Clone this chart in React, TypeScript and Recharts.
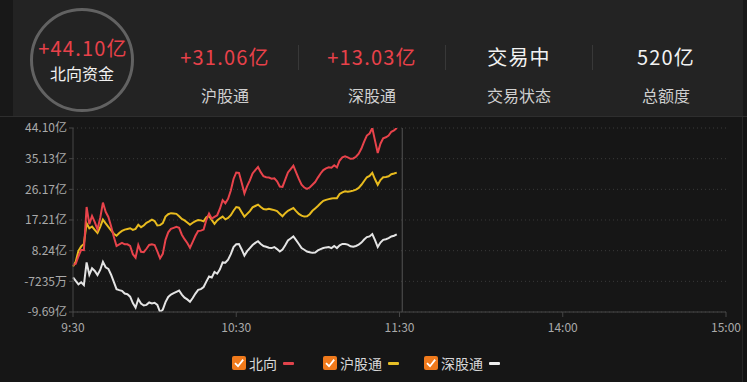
import React from 'react';
import { LineChart, Line, XAxis, YAxis, CartesianGrid, ReferenceLine } from 'recharts';

// minute-by-minute net inflow (亿), 9:30 → 11:29
const northbound = [
  4.1, 4.4, 6.6, 8.5, 8.4, 21.0, 16.0, 18.4, 16.6, 14.5,
  17.8, 22.3, 19.6, 18.1, 15.4, 12.3, 9.6, 10.1, 10.5, 10.1,
  10.1, 9.6, 7.2, 6.2, 9.9, 7.9, 7.8, 8.8, 9.9, 10.1,
  9.9, 8.0, 6.0, 7.3, 11.4, 13.6, 14.6, 14.9, 15.2, 14.9,
  12.9, 11.6, 10.5, 9.1, 10.8, 12.6, 14.0, 14.1, 14.4, 17.2,
  19.1, 17.6, 18.1, 18.6, 20.5, 23.0, 22.1, 23.4, 25.8, 29.2,
  31.1, 31.0, 28.1, 25.0, 27.1, 28.8, 30.8, 31.8, 32.7, 31.2,
  30.0, 29.7, 29.6, 29.3, 29.4, 28.5, 27.0, 26.9, 29.0, 31.1,
  32.1, 33.1, 31.1, 29.2, 27.5, 26.7, 26.3, 26.7, 27.5, 28.3,
  29.6, 30.8, 31.8, 32.3, 32.6, 32.5, 33.2, 32.6, 34.6, 35.5,
  35.8, 35.5, 35.1, 35.2, 35.7, 36.6, 38.1, 40.1, 41.9, 42.5,
  44.08, 40.4, 36.8, 39.5, 41.1, 41.4, 41.9, 43.0, 43.4, 44.1,
];
const shanghai = [
  3.6, 5.0, 8.2, 9.5, 10.2, 16.2, 14.8, 15.3, 14.3, 13.4,
  15.2, 17.3, 16.2, 15.2, 14.2, 13.2, 12.6, 13.4, 14.0, 14.4,
  14.6, 14.8, 14.3, 14.6, 15.8, 15.1, 15.6, 16.4, 16.8, 17.3,
  16.9, 15.6, 15.7, 16.3, 18.2, 18.9, 19.2, 19.1, 19.0, 18.3,
  17.5, 17.1, 16.5, 15.8, 16.4, 16.9, 17.2, 17.1, 16.8, 18.0,
  18.4, 17.2, 16.1, 17.1, 17.7, 18.2, 17.4, 17.8, 18.6, 19.9,
  21.0, 20.8, 19.5, 18.2, 19.0, 19.8, 20.9, 21.3, 21.7, 21.0,
  20.4, 20.3, 20.5, 20.3, 20.1, 19.8, 19.0, 18.3, 19.2, 19.9,
  20.3, 20.7, 19.8, 19.0, 18.5, 18.2, 18.3, 18.9, 19.9, 20.6,
  21.3, 22.1, 22.8, 23.1, 23.3, 23.5, 23.6, 23.6, 24.8, 25.3,
  25.6, 25.5, 25.6, 25.8, 26.1, 26.6, 27.5, 28.6, 29.7, 30.1,
  31.0, 29.1, 27.5, 28.9, 29.7, 29.8, 30.0, 30.6, 30.8, 31.06,
];
const shenzhen = [
  0.45, -0.6, -1.6, -1.0, -1.8, 4.8, 1.2, 3.1, 2.3, 1.1,
  2.6, 5.0, 3.4, 2.9, 1.2, -0.9, -3.0, -3.3, -3.5, -4.3,
  -4.5, -5.2, -7.1, -8.4, -5.9, -7.2, -7.8, -7.6, -6.9, -7.2,
  -7.0, -7.6, -9.69, -9.0, -6.8, -5.3, -4.6, -4.2, -3.8, -3.4,
  -4.6, -5.5, -6.0, -6.7, -5.6, -4.3, -3.2, -3.0, -2.4, -0.8,
  0.7, 0.4, 2.0, 1.5, 2.8, 4.8, 4.7, 5.6, 7.2, 9.3,
  10.1, 10.2, 8.6, 6.8, 8.1, 9.0, 9.9, 10.5, 11.0, 10.2,
  9.6, 9.4, 9.1, 9.0, 9.3, 8.7, 8.0, 8.6, 9.8, 11.2,
  11.8, 12.4, 11.3, 10.2, 9.0, 8.5, 8.0, 7.8, 7.6, 7.7,
  8.3, 8.7, 9.0, 9.2, 9.3, 9.0, 9.6, 9.0, 9.8, 10.2,
  10.2, 10.0, 9.5, 9.4, 9.6, 10.0, 10.6, 11.5, 12.2, 12.4,
  13.1, 11.3, 9.3, 10.6, 11.4, 11.6, 11.9, 12.4, 12.6, 13.03,
];

const timeTicks = [0, 60, 120, 180, 240];
const timeLabels = ['9:30', '10:30', '11:30', '14:00', '15:00'];
const yTicks = [44.1, 35.13, 26.17, 17.21, 8.24, -0.7235, -9.69];
const yLabels = ['44.10亿', '35.13亿', '26.17亿', '17.21亿', '8.24亿', '-7235万', '-9.69亿'];

const stats = [
  { value: '+31.06亿', label: '沪股通', color: '#e8414a' },
  { value: '+13.03亿', label: '深股通', color: '#e8414a' },
  { value: '交易中', label: '交易状态', color: '#f2f2f2' },
  { value: '520亿', label: '总额度', color: '#f2f2f2' },
];

const legendItems = [
  { name: '北向', color: '#e0434b' },
  { name: '沪股通', color: '#e6bf26' },
  { name: '深股通', color: '#eeeeee' },
];

const RED = '#e8434b';
const YELLOW = '#e8bb1e';
const WHITE = '#e4e4e4';
const FONT = '"Noto Sans CJK SC", "Noto Sans", sans-serif';

const data = northbound.map((v, i) => ({
  t: i,
  north: v,
  sh: shanghai[i],
  sz: shenzhen[i],
}));

const yLabel = (v: number) => {
  const i = yTicks.indexOf(v);
  return i >= 0 ? yLabels[i] : '';
};
const xLabel = (v: number) => {
  const i = timeTicks.indexOf(v);
  return i >= 0 ? timeLabels[i] : '';
};

const Centered = ({ cx, cy, size, color, children, spacing = 0 }: any) => (
  <div
    style={{
      position: 'absolute',
      left: cx - 70,
      width: 140,
      top: cy - size / 2,
      height: size,
      lineHeight: `${size}px`,
      fontSize: size,
      color,
      textAlign: 'center',
      whiteSpace: 'nowrap',
      letterSpacing: spacing,
    }}
  >
    {children}
  </div>
);

const CheckBox = () => (
  <svg width={14} height={14} style={{ display: 'block' }}>
    <rect x={0} y={0} width={14} height={14} rx={2} fill="#f07a1c" />
    <path d="M3 7.2 L6 10.2 L11.2 3.6" stroke="#fff" strokeWidth={1.8} fill="none" />
  </svg>
);

export default function App() {
  const legendLeft = [232, 323, 424];
  return (
    <div
      style={{
        position: 'fixed',
        left: 0,
        top: 0,
        width: 747,
        height: 382,
        background: '#161616',
        fontFamily: FONT,
        overflow: 'hidden',
      }}
    >
      <LineChart
        width={747}
        height={382}
        data={data}
        margin={{ top: 128, right: 21, bottom: 40, left: 8 }}
      >
        <CartesianGrid horizontal vertical={false} stroke="#3a3a3a" strokeDasharray="1 3" />
        <XAxis
          dataKey="t"
          type="number"
          domain={[0, 240]}
          ticks={timeTicks}
          tickFormatter={xLabel}
          height={30}
          stroke="#464646"
          tickSize={5}
          tickMargin={6}
          tick={{ fill: '#aaaaaa', fontSize: 12, fontFamily: FONT }}
          interval={0}
        />
        <YAxis
          type="number"
          domain={[-9.69, 44.1]}
          ticks={yTicks}
          tickFormatter={yLabel}
          allowDataOverflow
          width={65}
          stroke="#464646"
          tickSize={4}
          tickMargin={2}
          tick={{ fill: '#aaaaaa', fontSize: 12, fontFamily: FONT }}
          interval={0}
        />
        <ReferenceLine x={121} stroke="#555555" strokeWidth={1} />
        <Line dataKey="sz" stroke={WHITE} strokeWidth={2} dot={false} isAnimationActive={false} type="linear" />
        <Line dataKey="sh" stroke={YELLOW} strokeWidth={2} dot={false} isAnimationActive={false} type="linear" />
        <Line dataKey="north" stroke={RED} strokeWidth={2} dot={false} isAnimationActive={false} type="linear" />
      </LineChart>

      {/* summary header */}
      <div
        style={{
          position: 'absolute',
          left: 0,
          top: 0,
          width: 747,
          height: 116,
          background: '#232323',
          borderBottom: '1px solid #2e2e2e',
        }}
      >
        <div style={{ position: 'absolute', left: 0, top: 0, width: 13, height: 116, background: '#181818' }} />
        <div style={{ position: 'absolute', left: 743, top: 0, width: 4, height: 116, background: '#181818' }} />
        <div
          style={{
            position: 'absolute',
            left: 30,
            top: 8,
            width: 98,
            height: 98,
            borderRadius: '50%',
            border: '3px solid #626262',
          }}
        />
        <Centered cx={83} cy={48} size={20} color="#e8414a" spacing={1.2}>+44.10亿</Centered>
        <Centered cx={82} cy={73} size={16} color="#f0f0f0">北向资金</Centered>
        {stats.map((s, i) => (
          <React.Fragment key={s.label}>
            <Centered cx={225 + i * 147} cy={57} size={20} color={s.color} spacing={1.2}>{s.value}</Centered>
            <Centered cx={225 + i * 147} cy={95} size={16} color="#cfcfcf">{s.label}</Centered>
          </React.Fragment>
        ))}
        {[298, 445, 592].map((x) => (
          <div key={x} style={{ position: 'absolute', left: x, top: 45, width: 1, height: 25, background: '#383838' }} />
        ))}
      </div>

      <div style={{ position: 'absolute', left: 742, top: 117, width: 5, height: 265, background: '#121212', borderLeft: '1px solid #262626' }} />

      {/* legend */}
      {legendItems.map((it, i) => (
        <div
          key={it.name}
          style={{
            position: 'absolute',
            left: legendLeft[i],
            top: 356,
            height: 14,
            display: 'flex',
            alignItems: 'center',
            fontSize: 14,
            lineHeight: '14px',
            color: '#d8d8d8',
          }}
        >
          <CheckBox />
          <span style={{ marginLeft: 3 }}>{it.name}</span>
          <span style={{ marginLeft: 6, width: 11, height: 3, borderRadius: 1, background: it.color, display: 'block' }} />
        </div>
      ))}
    </div>
  );
}
